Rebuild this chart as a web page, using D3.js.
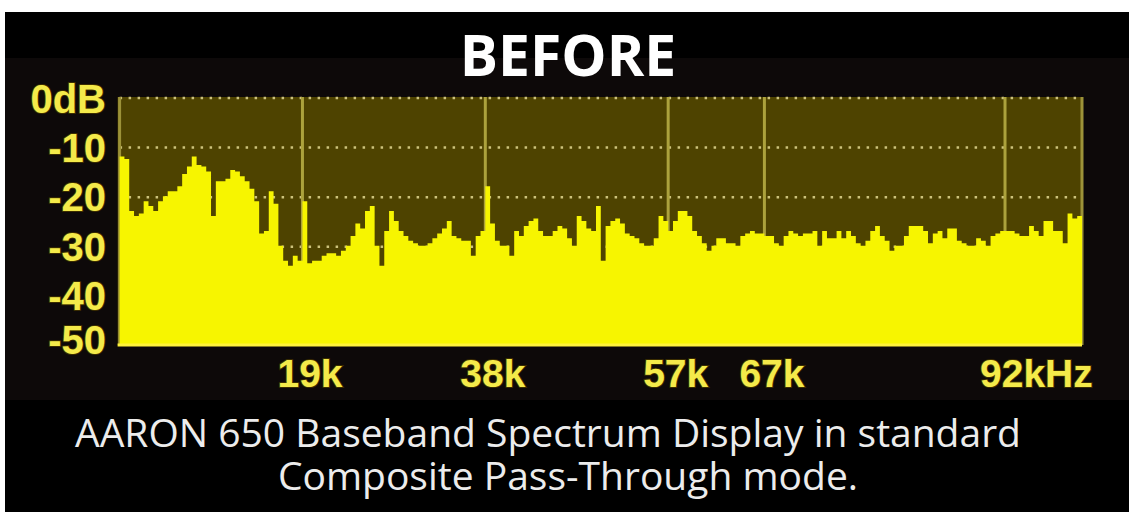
<!DOCTYPE html>
<html>
<head>
<meta charset="utf-8">
<script src="https://cdn.jsdelivr.net/npm/d3@7"></script>
<style>
  html, body { margin: 0; padding: 0; background: #fff; }
  svg { display: block; }
</style>
</head>
<body>
<div id="wrapper"></div>
<script>
// spectrum level per 0.5 kHz bin, 0 .. 100 kHz (dB)
const binWidth = 0.5;
const levels = [
  -12, -12.5, -23, -24, -23.5, -21, -22, -23, -21, -20,
  -19, -19, -18, -15.5, -14, -12, -13.7, -14, -15, -24,
  -17, -17, -16.5, -14.7, -15, -16, -17, -18.5, -21, -27.5,
  -27, -19, -21.5, -30, -33, -34, -32, -33, -21, -33.5,
  -33, -33, -32, -31.5, -31.5, -32, -31, -30, -28, -25.5,
  -26.5, -23, -22, -30, -34, -27, -23, -25, -27, -28,
  -29, -29.5, -30, -30, -29.5, -28.5, -27.5, -26.5, -25, -28,
  -28.5, -29, -29, -32, -28, -27, -18, -25.5, -29, -30,
  -30, -32, -27, -28, -26, -25, -24.5, -27, -28, -28,
  -27, -26, -26.5, -28.5, -30, -24, -25, -26.5, -27, -22,
  -33, -26, -25, -24.5, -25.5, -27.5, -28, -28.5, -29.5, -30,
  -30, -28.5, -24, -25, -27, -25, -23, -23, -24, -27,
  -28, -29.5, -31, -30, -28.5, -28.5, -29.5, -29.5, -30, -28,
  -27.5, -27, -27.5, -27.5, -28, -28, -29.5, -30, -28, -27,
  -27.5, -28, -27.5, -27.5, -27, -30, -27, -28.5, -28.5, -27,
  -28.5, -27, -28, -29.5, -30, -29, -27, -26, -28, -29,
  -31, -30, -30, -28, -26, -26, -26, -27, -29.5, -27.5,
  -27, -28.5, -26.5, -26.5, -29, -29.5, -30, -30, -28.5, -29,
  -30, -28, -27.5, -27, -27, -27, -27.5, -28, -28, -26,
  -27, -28, -25, -25, -27, -27, -29.5, -23.5, -24.5, -24
];
const freqMarks = [19, 38, 57, 67, 92];
const freqLabels = ["19k", "38k", "57k", "67k", "92kHz"];
const dbTicks = [0, -10, -20, -30, -40, -50];
const dbLabels = ["0dB", "-10", "-20", "-30", "-40", "-50"];
const titleText = "BEFORE";
const captionLines = [
  "AARON 650 Baseband Spectrum Display in standard",
  "Composite Pass-Through mode."
];

const width = 1129, height = 512;
const plot = { left: 119.6, right: 1082, top: 97, bottom: 345 };

const svg = d3.select("#wrapper").append("svg")
    .attr("width", width)
    .attr("height", height);

// photo frame: white strip top/left, black body
svg.append("rect")
    .attr("x", 5).attr("y", 12)
    .attr("width", width - 5).attr("height", height - 12)
    .attr("fill", "#000");
// faint device panel around the screen
svg.append("rect")
    .attr("x", 5).attr("y", 58)
    .attr("width", width - 5).attr("height", 342)
    .attr("fill", "#0d0909");

const x = d3.scaleLinear()
    .domain([0, levels.length * binWidth])
    .range([plot.left, plot.right]);

const y = d3.scaleLinear()
    .domain([-50, 0])
    .range([plot.bottom, plot.top]);

// screen background
svg.append("rect")
    .attr("x", x(0) - 2)
    .attr("y", y(0))
    .attr("width", x.range()[1] - x(0) + 2)
    .attr("height", y(-50) - y(0))
    .attr("fill", "#4e4300");

// dotted dB grid
svg.append("g")
    .selectAll("line")
    .data(dbTicks.slice(0, -1))
    .join("line")
    .attr("x1", x(0)).attr("x2", x.range()[1])
    .attr("y1", d => y(d) + 1).attr("y2", d => y(d) + 1)
    .attr("stroke", "#cdc37c")
    .attr("stroke-width", 2.5)
    .attr("stroke-dasharray", "2.5,6.5");

// frequency marker lines + screen edges
svg.append("g")
    .selectAll("line")
    .data(freqMarks)
    .join("line")
    .attr("x1", d => x(d)).attr("x2", d => x(d))
    .attr("y1", y(0)).attr("y2", y(-50))
    .attr("stroke", "#aca23c")
    .attr("stroke-width", 3);

svg.append("g")
    .selectAll("line")
    .data([0, levels.length * binWidth])
    .join("line")
    .attr("x1", d => x(d)).attr("x2", d => x(d))
    .attr("y1", y(0)).attr("y2", y(-50))
    .attr("stroke", "#9c9238")
    .attr("stroke-width", 3);

// spectrum fill
const pts = levels.map((v, i) => ({ f: i * binWidth, v: v }));
pts.push({ f: levels.length * binWidth, v: levels[levels.length - 1] });

const area = d3.area()
    .curve(d3.curveStepAfter)
    .x(d => x(d.f))
    .y0(y(-50))
    .y1(d => y(d.v));

svg.append("path")
    .attr("d", area(pts))
    .attr("fill", "#f7f500");

// bright base line
svg.append("line")
    .attr("x1", x(0) - 2).attr("x2", x.range()[1])
    .attr("y1", y(-50)).attr("y2", y(-50))
    .attr("stroke", "#fff23a")
    .attr("stroke-width", 3);

// dB labels
svg.append("g")
    .selectAll("text")
    .data(dbTicks)
    .join("text")
    .attr("x", 106)
    .attr("y", (d, i) => y(d) + 15 + (i === 0 ? 1 : 0) - (i === dbTicks.length - 1 ? 6 : 0))
    .attr("text-anchor", "end")
    .attr("font-family", "'Liberation Sans', Arial, sans-serif")
    .attr("font-weight", "bold")
    .attr("font-size", 40)
    .attr("fill", "#f4ea4a")
    .attr("stroke", "#3a2c00")
    .attr("stroke-width", 2)
    .attr("paint-order", "stroke")
    .text((d, i) => dbLabels[i]);

// frequency labels
svg.append("g")
    .selectAll("text")
    .data(freqMarks)
    .join("text")
    .attr("x", d => x(d) - 25)
    .attr("y", y(-50) + 42)
    .attr("text-anchor", "start")
    .attr("font-family", "'Liberation Sans', Arial, sans-serif")
    .attr("font-weight", "bold")
    .attr("font-size", 39)
    .attr("fill", "#f4ea4a")
    .attr("stroke", "#3a2c00")
    .attr("stroke-width", 2)
    .attr("paint-order", "stroke")
    .text((d, i) => freqLabels[i]);

// title
svg.append("text")
    .attr("x", 568)
    .attr("y", 76)
    .attr("text-anchor", "middle")
    .attr("font-family", "'Open Sans', sans-serif")
    .attr("font-weight", "bold")
    .attr("font-size", 57)
    .attr("fill", "#fff")
    .text(titleText);

// caption, one text block with two lines
const caption = svg.append("text")
    .attr("text-anchor", "middle")
    .attr("font-family", "'Open Sans', sans-serif")
    .attr("font-size", 39)
    .attr("fill", "#ececec");

caption.selectAll("tspan")
    .data(captionLines)
    .join("tspan")
    .attr("x", (d, i) => i === 0 ? 548 : 568)
    .attr("y", (d, i) => 447 + i * 43)
    .text(d => d);
</script>
</body>
</html>
